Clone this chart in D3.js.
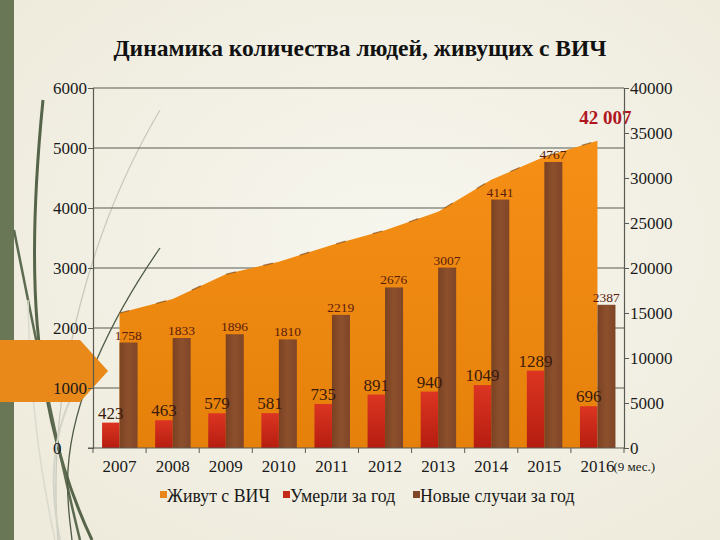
<!DOCTYPE html>
<html><head><meta charset="utf-8">
<script src="https://cdn.jsdelivr.net/npm/d3@7"></script>
<style>
html,body{margin:0;padding:0;background:#f3f1e6;}
svg{display:block;}
svg text{font-family:"Liberation Serif","Times New Roman","DejaVu Serif",serif;}
</style></head>
<body>
<svg id="chart" width="720" height="540"></svg>
<script>
const years = ["2007","2008","2009","2010","2011","2012","2013","2014","2015","2016"];
const living = [15000,16550,19300,20700,22550,24200,26250,29800,32350,34150];
const deaths = [423,463,579,581,735,891,940,1049,1289,696];
const newCases = [1758,1833,1896,1810,2219,2676,3007,4141,4767,2387];
const leftTicks = [0,1000,2000,3000,4000,5000,6000];
const rightTicks = [0,5000,10000,15000,20000,25000,30000,35000,40000];
const seriesNames = ["Живут с ВИЧ","Умерли за год","Новые случаи за год"];
const seriesColors = ["#e8861a","#c42a1a","#7e4527"];
const livingLabel = "42 007";
const yearNote = "(9 мес.)";
const title = "Динамика количества людей, живущих с ВИЧ";

const FF = "'Liberation Serif','Times New Roman','DejaVu Serif',serif";
const svg = d3.select("#chart");
const W = 720, H = 540;
const m = {left:93, right:624, top:88, bottom:448};

// background
const defs = svg.append("defs");
const bg = defs.append("radialGradient").attr("id","bg").attr("cx","55%").attr("cy","45%").attr("r","70%");
bg.append("stop").attr("offset","0%").attr("stop-color","#f7f6ee");
bg.append("stop").attr("offset","100%").attr("stop-color","#eeebdc");
svg.append("rect").attr("width",W).attr("height",H).attr("fill","url(#bg)");

const ag = defs.append("linearGradient").attr("id","areaG").attr("x1",0).attr("y1",0).attr("x2",0).attr("y2",1);
ag.append("stop").attr("offset","0%").attr("stop-color","#f68f16");
ag.append("stop").attr("offset","100%").attr("stop-color","#e5810a");
const rg = defs.append("linearGradient").attr("id","redG").attr("x1",0).attr("y1",0).attr("x2",0).attr("y2",1);
rg.append("stop").attr("offset","0%").attr("stop-color","#dc3522");
rg.append("stop").attr("offset","100%").attr("stop-color","#b51d10");
const bgr = defs.append("linearGradient").attr("id","brownG").attr("x1",0).attr("y1",0).attr("x2",1).attr("y2",0);
bgr.append("stop").attr("offset","0%").attr("stop-color","#7a4222");
bgr.append("stop").attr("offset","50%").attr("stop-color","#8d502d");
bgr.append("stop").attr("offset","100%").attr("stop-color","#7e4527");

// left decoration
svg.append("rect").attr("x",0).attr("y",0).attr("width",14).attr("height",H).attr("fill","#6a7757");
const deco = svg.append("g").attr("fill","none");
deco.append("path").attr("d","M160 110 C95 220 45 380 58 540").attr("stroke","#c9cabd").attr("stroke-width",1.3);
deco.append("path").attr("d","M43 100 C28 250 26 400 92 540").attr("stroke","#56654a").attr("stroke-width",3);
deco.append("path").attr("d","M14 230 C40 360 58 450 80 540").attr("stroke","#5d6b50").attr("stroke-width",2.5);
deco.append("path").attr("d","M160 248 C110 320 72 400 68 470 C66 500 70 520 72 540").attr("stroke","#4e5a44").attr("stroke-width",1.3);
deco.append("path").attr("d","M70 400 C48 450 52 500 60 540").attr("stroke","#d4d5c8").attr("stroke-width",2);
deco.append("path").attr("d","M28 300 C30 400 40 470 55 540").attr("stroke","#d9dacd").attr("stroke-width",1.5);
svg.append("path").attr("d","M0 340 L80 340 L108 371 L80 402 L0 402 Z").attr("fill","#e8891a");

// scales
const x = d3.scaleBand().domain(years).range([m.left,m.right]).padding(0);
const yL = d3.scaleLinear().domain([0,6000]).range([m.bottom,m.top]);
const yR = d3.scaleLinear().domain([0,40000]).range([m.bottom,m.top]);
const half = 17.5;
const cx = d => x(d) + x.bandwidth()/2;

// gridlines
svg.append("g").selectAll("line").data(leftTicks.filter(t=>t>0)).join("line")
  .attr("x1",m.left).attr("x2",m.right).attr("y1",d=>yL(d)).attr("y2",d=>yL(d))
  .attr("stroke","#5a5a55").attr("stroke-width",1.2);

// area (living with HIV)
const pts = years.map((yv,i)=>({year:yv,v:living[i]}));
const area = d3.area().x(d=>cx(d.year)).y0(yR(0)).y1(d=>yR(d.v));
svg.append("path").datum(pts).attr("d",area).attr("fill","url(#areaG)");
svg.append("path").datum(pts).attr("d",d3.line().x(d=>cx(d.year)).y(d=>yR(d.v)))
  .attr("fill","none").attr("stroke","#6b3d12").attr("stroke-width",1.2)
  .attr("stroke-dasharray","10 28").attr("opacity",0.6);

// bars
svg.append("g").selectAll("rect").data(deaths).join("rect")
  .attr("x",(d,i)=>cx(years[i])-half).attr("width",half)
  .attr("y",d=>yL(d)).attr("height",d=>yL(0)-yL(d)).attr("fill","url(#redG)");
svg.append("g").selectAll("rect").data(newCases).join("rect")
  .attr("x",(d,i)=>cx(years[i])).attr("width",half+0.5)
  .attr("y",d=>yL(d)).attr("height",d=>yL(0)-yL(d)).attr("fill","url(#brownG)");

// labels
svg.append("g").selectAll("text").data(deaths).join("text")
  .attr("x",(d,i)=>cx(years[i])-half/2).attr("y",d=>yL(d)-4)
  .attr("text-anchor","middle").attr("font-family",FF).attr("font-size",17).attr("fill","#3a1a0c").text(d=>d);
svg.append("g").selectAll("text").data(newCases).join("text")
  .attr("x",(d,i)=>cx(years[i])+half/2).attr("y",d=>yL(d)-3)
  .attr("text-anchor","middle").attr("font-family",FF).attr("font-size",13.5).attr("fill","#5a1c0c").text(d=>d);
svg.append("text").attr("x",cx(years[9])+8).attr("y",yR(living[9])-17)
  .attr("text-anchor","middle").attr("font-family",FF).attr("font-size",19).attr("font-weight","bold")
  .attr("fill","#b0161e").text(livingLabel);

// axes
const axL = svg.append("g").attr("transform",`translate(${m.left},0)`)
  .call(d3.axisLeft(yL).tickValues(leftTicks).tickSize(5).tickFormat(d3.format("d")));
axL.attr("font-family",FF);
axL.select(".domain").attr("stroke","#5a5a55").attr("stroke-width",1.2);
axL.selectAll(".tick line").attr("stroke","#5a5a55");
axL.selectAll(".tick text").attr("text-anchor","start").attr("x",53-m.left).attr("dy","0.35em")
  .attr("font-size",17).attr("font-family",FF).attr("fill","#1a1a1a");

const axR = svg.append("g").attr("transform",`translate(${m.right},0)`)
  .call(d3.axisRight(yR).tickValues(rightTicks).tickSize(5).tickPadding(1).tickFormat(d3.format("d")));
axR.attr("font-family",FF);
axR.select(".domain").attr("stroke","#5a5a55").attr("stroke-width",1.2);
axR.selectAll(".tick line").attr("stroke","#5a5a55");
axR.selectAll(".tick text").attr("dy","0.35em").attr("font-size",17)
  .attr("font-family",FF).attr("fill","#1a1a1a");

// x axis
const xa = svg.append("g");
xa.append("line").attr("x1",m.left-5).attr("x2",m.right).attr("y1",m.bottom).attr("y2",m.bottom)
  .attr("stroke","#5a5a55").attr("stroke-width",1.2);
xa.selectAll("line.t").data(years.concat(["end"])).join("line").attr("class","t")
  .attr("x1",d=>d==="end"?m.right:x(d)).attr("x2",d=>d==="end"?m.right:x(d))
  .attr("y1",m.bottom).attr("y2",m.bottom+5).attr("stroke","#5a5a55");
xa.selectAll("text").data(years).join("text")
  .attr("x",d=>cx(d)).attr("y",472).attr("text-anchor","middle").attr("font-family",FF)
  .attr("font-size",17).attr("fill","#1a1a1a").text(d=>d);
svg.append("text").attr("x",cx(years[9])+16).attr("y",471).attr("font-family",FF)
  .attr("font-size",13).attr("fill","#1a1a1a").text(yearNote);

// title
svg.append("text").attr("x",360).attr("y",56).attr("text-anchor","middle").attr("font-family",FF)
  .attr("font-size",23.5).attr("font-weight","bold").attr("fill","#111").text(title);

// legend
const legX = [160,283,413];
const lg = svg.append("g");
seriesNames.forEach((n,i)=>{
  lg.append("rect").attr("x",legX[i]).attr("y",491).attr("width",7).attr("height",7).attr("fill",seriesColors[i]);
  lg.append("text").attr("x",legX[i]+7).attr("y",502).attr("font-family",FF).attr("font-size",17.8)
    .attr("fill","#1a1a1a").text(n);
});
</script>
</body></html>
